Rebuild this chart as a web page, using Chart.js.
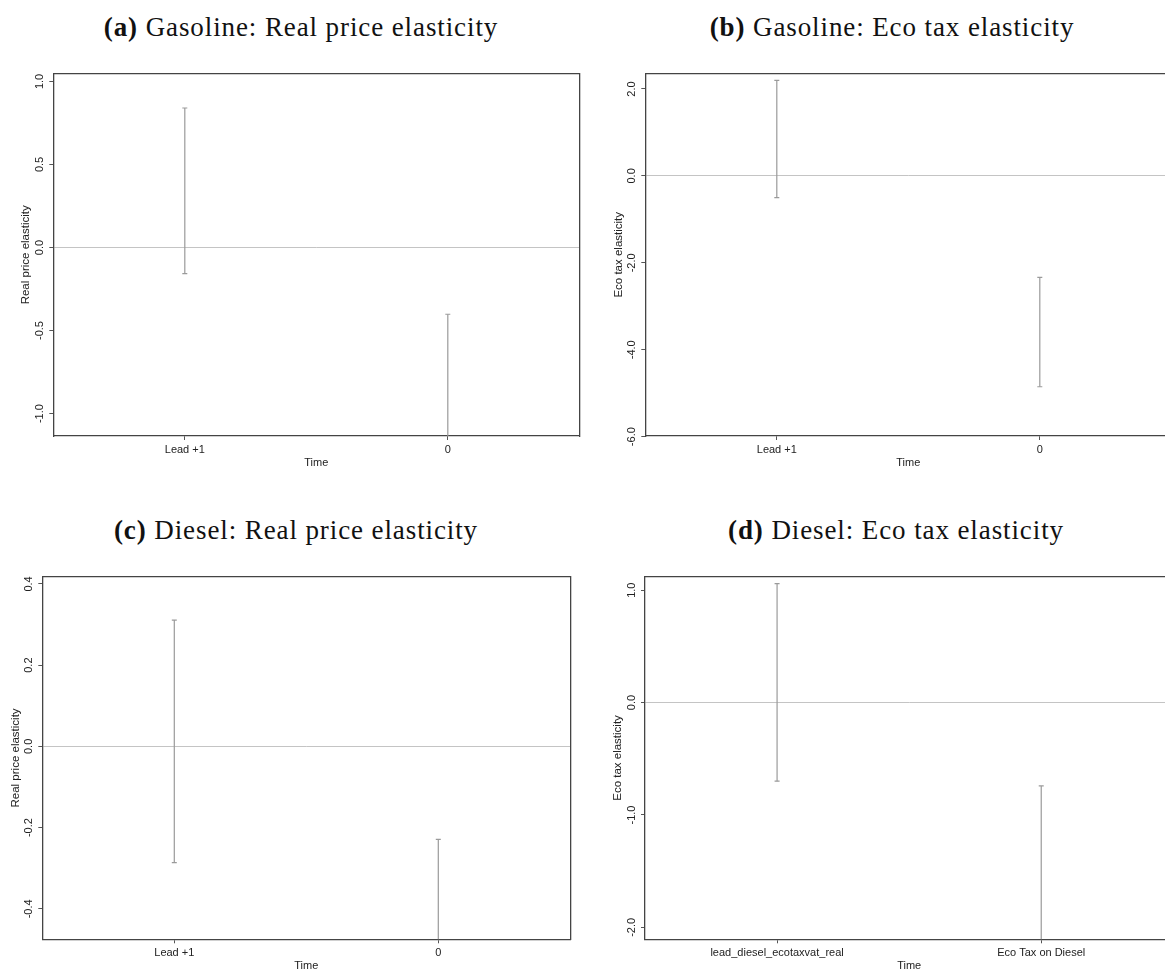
<!DOCTYPE html>
<html><head><meta charset="utf-8">
<script src="https://cdn.jsdelivr.net/npm/chart.js@4.4.1/dist/chart.umd.min.js"></script>
<style>
html,body{margin:0;padding:0;width:1165px;height:971px;overflow:hidden;background:#fff;position:relative;}
canvas{position:absolute;}
.ttl{position:absolute;font-family:'Liberation Serif','Times New Roman',serif;font-size:27px;letter-spacing:0.9px;color:#111;white-space:nowrap;transform:translate(-50%,-50%);line-height:1;}
</style></head><body>
<script>
// ---------------- DATA ----------------
// (a) Gasoline: Real price elasticity
const catsA = ['Lead +1', '0'];
const upperA = [0.84, -0.402];
const lowerA = [-0.157, -1.2];
const ticksA = [-1.0, -0.5, 0.0, 0.5, 1.0];
const rangeA = [-1.135, 1.047];
// (b) Gasoline: Eco tax elasticity
const catsB = ['Lead +1', '0'];
const upperB = [2.198, -2.335];
const lowerB = [-0.502, -4.852];
const ticksB = [-6.0, -4.0, -2.0, 0.0, 2.0];
const rangeB = [-5.985, 2.354];
// (c) Diesel: Real price elasticity
const catsC = ['Lead +1', '0'];
const upperC = [0.311, -0.229];
const lowerC = [-0.286, -0.5];
const ticksC = [-0.4, -0.2, 0.0, 0.2, 0.4];
const rangeC = [-0.475, 0.418];
// (d) Diesel: Eco tax elasticity
const catsD = ['lead_diesel_ecotaxvat_real', 'Eco Tax on Diesel'];
const upperD = [1.058, -0.741];
const lowerD = [-0.699, -2.2];
const ticksD = [-2.0, -1.0, 0.0, 1.0];
const rangeD = [-2.106, 1.121];

const titlesTag = ['(a)', '(b)', '(c)', '(d)'];
const titlesText = ['Gasoline: Real price elasticity', 'Gasoline: Eco tax elasticity', 'Diesel: Real price elasticity', 'Diesel: Eco tax elasticity'];
const yTitles = ['Real price elasticity', 'Eco tax elasticity', 'Real price elasticity', 'Eco tax elasticity'];
const xTitle = 'Time';

// ---------------- LAYOUT ----------------
const layouts = [
  {cl: 53.3, ct: 70.5, cr: 580, cb: 436, yTitleX: 26, timeY: 463, tx: 301, ty: 27},
  {cl: 645.3, ct: 70.5, cr: 1172, cb: 436, yTitleX: 619, timeY: 463, tx: 892, ty: 27},
  {cl: 42.3, ct: 573.3, cr: 570.7, cb: 939.3, yTitleX: 15.6, timeY: 965.7, tx: 296, ty: 530},
  {cl: 645, ct: 573.3, cr: 1174, cb: 939.3, yTitleX: 618, timeY: 965.7, tx: 896, ty: 530}
];
const panels = [
  {cats: catsA, upper: upperA, lower: lowerA, ticks: ticksA, range: rangeA},
  {cats: catsB, upper: upperB, lower: lowerB, ticks: ticksB, range: rangeB},
  {cats: catsC, upper: upperC, lower: lowerC, ticks: ticksC, range: rangeC},
  {cats: catsD, upper: upperD, lower: lowerD, ticks: ticksD, range: rangeD}
];

Chart.defaults.font.family = "'Liberation Sans', Arial, Helvetica, sans-serif";
Chart.defaults.font.size = 11;
Chart.defaults.color = '#222';

const BOX = '#444', TICK = '#555', BAR = '#9a9a9a', ZERO = '#c4c4c4';

panels.forEach((p, k) => {
  const g = layouts[k];
  const L = Math.floor(g.yTitleX - 6.6);
  const T = Math.floor(g.ct - 3);
  const R = Math.ceil(g.cr + 3);
  const B = Math.ceil(g.timeY + 6.6);
  const cv = document.createElement('canvas');
  cv.width = R - L; cv.height = B - T;
  cv.style.left = L + 'px'; cv.style.top = T + 'px';
  cv.style.width = (R - L) + 'px'; cv.style.height = (B - T) + 'px';
  document.body.appendChild(cv);

  const t = document.createElement('div');
  t.className = 'ttl';
  t.style.left = g.tx + 'px'; t.style.top = g.ty + 'px';
  const b = document.createElement('b'); b.textContent = titlesTag[k];
  t.appendChild(b);
  t.appendChild(document.createTextNode(' ' + titlesText[k]));
  document.body.appendChild(t);

  const datasets = p.cats.map((c, i) => ({
    label: c,
    data: [{x: i + 1, y: p.lower[i]}, {x: i + 1, y: p.upper[i]}],
    borderColor: BAR, borderWidth: 1.2, fill: false, tension: 0,
    pointStyle: 'line', pointRadius: 2.5, pointHoverRadius: 2.5,
    pointBorderColor: BAR, pointBorderWidth: 1.2, pointBackgroundColor: BAR
  }));

  new Chart(cv, {
    type: 'line',
    data: {datasets},
    options: {
      responsive: false, animation: false, devicePixelRatio: 1,
      layout: {padding: 0},
      events: [],
      plugins: {legend: {display: false}, tooltip: {enabled: false}},
      scales: {
        x: {
          type: 'linear', position: 'bottom', min: 0.5, max: 2.5,
          afterBuildTicks: a => { a.ticks = p.cats.map((c, i) => ({value: i + 1})); },
          afterFit: a => { a.height = B - g.cb; },
          ticks: {callback: (v, i) => p.cats[i], maxRotation: 0, minRotation: 0, autoSkip: false, padding: 3, color: '#222'},
          grid: {drawOnChartArea: false, drawTicks: true, tickLength: 4, tickColor: TICK, tickWidth: 1},
          border: {display: true, color: BOX, width: 1.3},
          title: {display: true, text: xTitle, padding: 0, color: '#222'}
        },
        x2: {
          type: 'linear', position: 'top', axis: 'x', min: 0, max: 1,
          afterFit: a => { a.height = g.ct - T; },
          ticks: {display: false},
          grid: {display: false, drawTicks: false},
          border: {display: true, color: BOX, width: 1.3}
        },
        y: {
          type: 'linear', position: 'left', min: p.range[0], max: p.range[1],
          afterBuildTicks: a => { a.ticks = p.ticks.map(v => ({value: v})); },
          afterFit: a => { a.width = g.cl - L; },
          ticks: {callback: v => Number(v).toFixed(1), minRotation: 90, maxRotation: 90, crossAlign: 'center', padding: 0, color: '#222'},
          grid: {
            drawOnChartArea: true, drawTicks: true, tickLength: 4, tickColor: TICK, tickWidth: 1, lineWidth: 1,
            color: c => (c.tick && Math.abs(c.tick.value) < 1e-9) ? ZERO : 'rgba(0,0,0,0)'
          },
          border: {display: true, color: BOX, width: 1.3},
          title: {display: true, text: yTitles[k], padding: 0, color: '#222', font: {size: 11.5}}
        },
        y2: {
          type: 'linear', position: 'right', axis: 'y', min: 0, max: 1,
          afterFit: a => { a.width = R - g.cr; },
          ticks: {display: false},
          grid: {display: false, drawTicks: false},
          border: {display: true, color: BOX, width: 1.3}
        }
      }
    }
  });
});
</script>
</body></html>
